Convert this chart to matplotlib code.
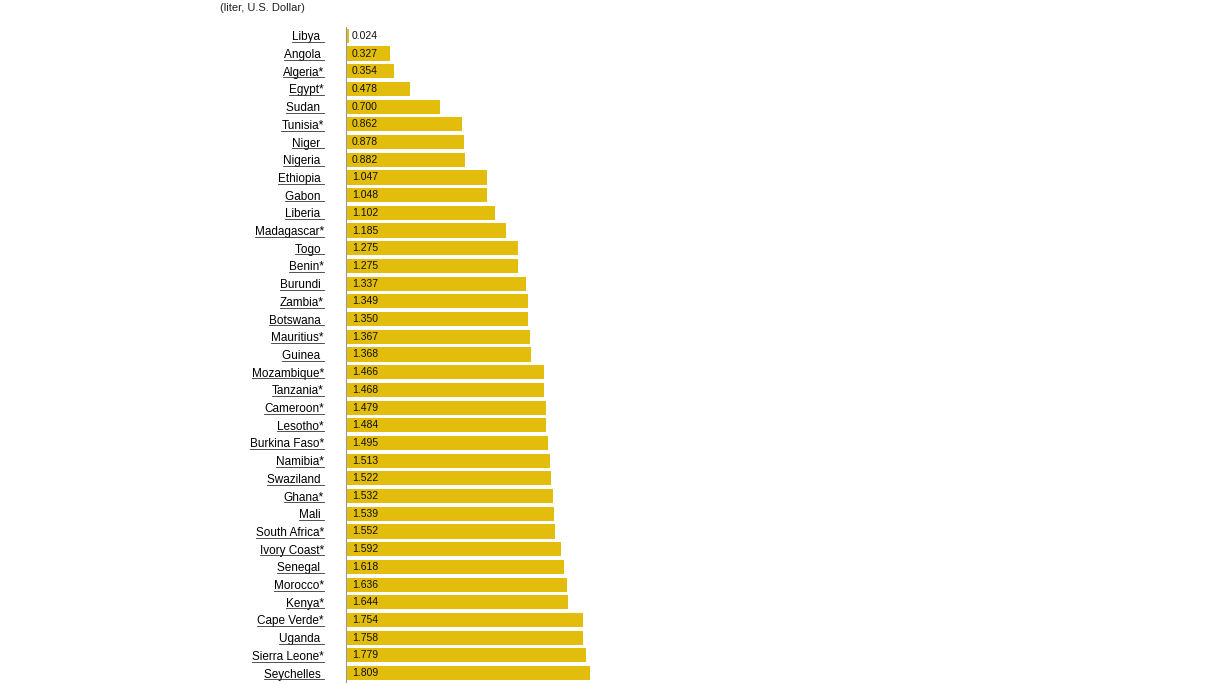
import matplotlib.pyplot as plt
from matplotlib.lines import Line2D

countries = ["Libya", "Angola", "Algeria*", "Egypt*", "Sudan", "Tunisia*", "Niger", "Nigeria",
             "Ethiopia", "Gabon", "Liberia", "Madagascar*", "Togo", "Benin*", "Burundi", "Zambia*",
             "Botswana", "Mauritius*", "Guinea", "Mozambique*", "Tanzania*", "Cameroon*", "Lesotho*",
             "Burkina Faso*", "Namibia*", "Swaziland", "Ghana*", "Mali", "South Africa*",
             "Ivory Coast*", "Senegal", "Morocco*", "Kenya*", "Cape Verde*", "Uganda",
             "Sierra Leone*", "Seychelles"]
prices = [0.024, 0.327, 0.354, 0.478, 0.700, 0.862, 0.878, 0.882, 1.047, 1.048, 1.102, 1.185,
          1.275, 1.275, 1.337, 1.349, 1.350, 1.367, 1.368, 1.466, 1.468, 1.479, 1.484, 1.495,
          1.513, 1.522, 1.532, 1.539, 1.552, 1.592, 1.618, 1.636, 1.644, 1.754, 1.758, 1.779,
          1.809]

plt.rcParams['font.family'] = ['Liberation Sans', 'DejaVu Sans']
fig = plt.figure(figsize=(12.16, 6.84), dpi=100)
ax = fig.add_axes([0.2845, 0.003, 0.222, 0.9575])

y = range(len(countries))
ax.barh(y, prices, height=0.8, color="#e3bd0b")
ax.set_xlim(0, 2)
ax.set_ylim(len(countries) - 0.5, -0.5)
ax.set_yticks(list(y))
ax.set_yticklabels([c if c.endswith("*") else c + " " for c in countries], fontsize=8.5)
ax.tick_params(axis="y", length=0, pad=16)
ax.set_xticks([])
for s in ["top", "right", "bottom"]:
    ax.spines[s].set_visible(False)
ax.spines["left"].set_color("#999999")
ax.spines["left"].set_linewidth(0.8)

for i, v in enumerate(prices):
    ax.text(0.045, i, f"{v:.3f}", va="center", ha="left", fontsize=7.5, color="#111111")

fig.text(220 / 1216, 1 - 8 / 684, "(liter, U.S. Dollar)", fontsize=8, va="center", ha="left",
         color="#222222")

# underline the country labels
fig.canvas.draw()
renderer = fig.canvas.get_renderer()
for lab in ax.get_yticklabels():
    bb = lab.get_window_extent(renderer).transformed(fig.transFigure.inverted())
    yy = bb.y0 + 0.002
    fig.add_artist(Line2D([bb.x0, bb.x1], [yy, yy], color="#333333", linewidth=0.6))

fig.savefig("out.png", dpi=100)
